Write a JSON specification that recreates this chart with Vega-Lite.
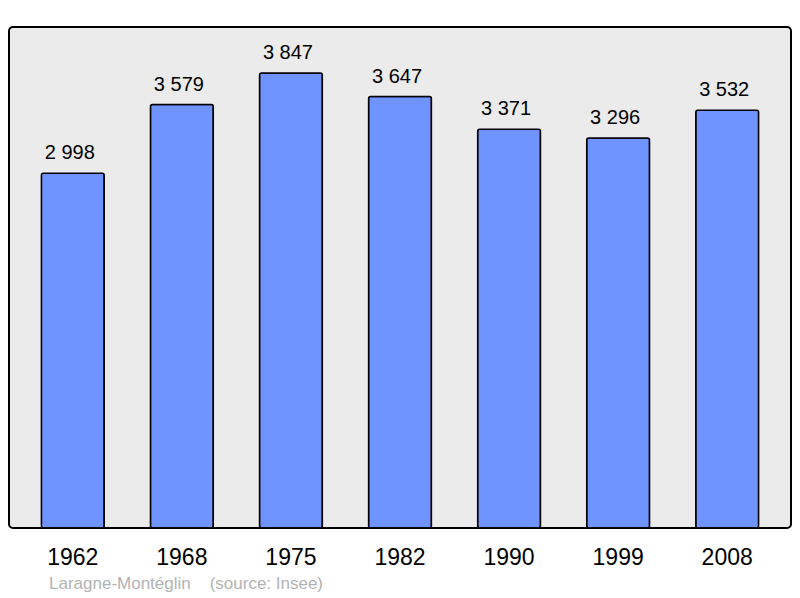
{
  "$schema": "https://vega.github.io/schema/vega-lite/v6.json",
  "width": 782,
  "height": 501,
  "autosize": {"type": "none"},
  "padding": {"left": 9, "top": 27, "right": 9, "bottom": 70},
  "background": "white",
  "config": {
    "font": "Liberation Sans",
    "view": {"stroke": "#000000", "strokeWidth": 2, "fill": "#ebebeb", "cornerRadius": 4},
    "locale": {"number": {"decimal": ",", "thousands": "\u00a0", "grouping": [3], "currency": ["", " €"]}}
  },
  "title": {
    "text": "Laragne-Montéglin\u00a0\u00a0\u00a0\u00a0(source: Insee)",
    "orient": "bottom",
    "anchor": "start",
    "frame": "group",
    "dx": 40,
    "offset": 7,
    "fontSize": 17,
    "fontWeight": "normal",
    "color": "#b3b3b3",
    "font": "Liberation Sans"
  },
  "data": {
    "values": [
      {"year": "1962", "population": 2998},
      {"year": "1968", "population": 3579},
      {"year": "1975", "population": 3847},
      {"year": "1982", "population": 3647},
      {"year": "1990", "population": 3371},
      {"year": "1999", "population": 3296},
      {"year": "2008", "population": 3532}
    ]
  },
  "encoding": {
    "x": {
      "field": "year",
      "type": "ordinal",
      "scale": {"paddingInner": 0.424, "paddingOuter": 0.297},
      "axis": {"title": null, "domain": false, "ticks": false, "labelAngle": 0, "labelFontSize": 23, "labelColor": "#000000", "labelPadding": 18, "labelFont": "Liberation Sans"}
    },
    "y": {
      "field": "population",
      "type": "quantitative",
      "scale": {"domain": [0, 4235], "nice": false},
      "axis": null
    }
  },
  "layer": [
    {
      "mark": {"type": "bar", "fill": "#7094ff", "stroke": "#000000", "strokeWidth": 1.5, "cornerRadius": 2}
    },
    {
      "mark": {"type": "text", "baseline": "alphabetic", "dy": -14, "dx": -3, "fontSize": 20, "color": "#000000", "font": "Liberation Sans"},
      "encoding": {"text": {"field": "population", "type": "quantitative", "format": ",d"}}
    }
  ]
}
